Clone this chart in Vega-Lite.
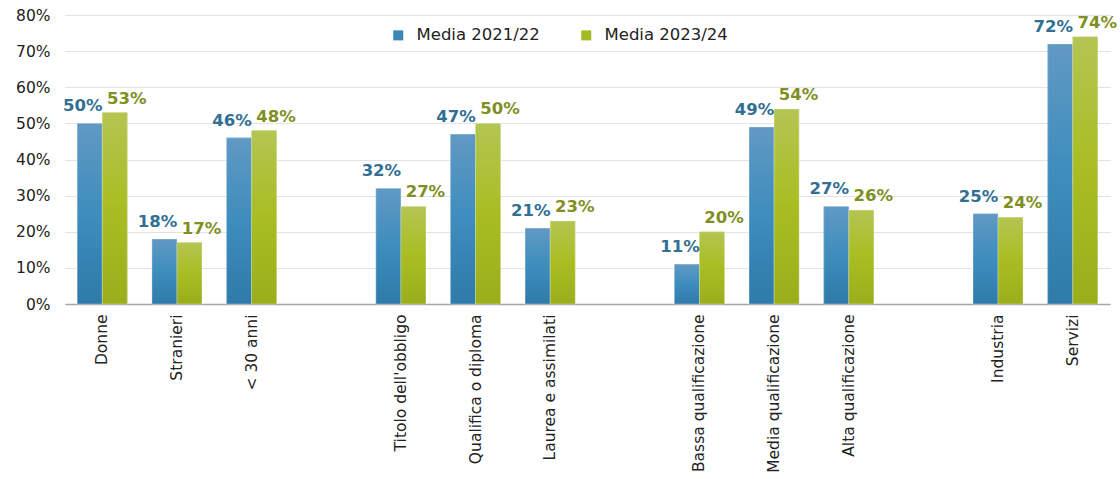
{
  "$schema": "https://vega.github.io/schema/vega-lite/v6.json",
  "width": 1045,
  "height": 289,
  "autosize": {"type": "none"},
  "padding": {"left": 65, "top": 15, "right": 10, "bottom": 175},
  "background": "white",
  "config": {
    "view": {"stroke": null},
    "font": "DejaVu Sans"
  },
  "data": {
    "values": [
      {"cat": "Donne", "serie": "Media 2021/22", "v": 0.50},
      {"cat": "Donne", "serie": "Media 2023/24", "v": 0.53},
      {"cat": "Stranieri", "serie": "Media 2021/22", "v": 0.18},
      {"cat": "Stranieri", "serie": "Media 2023/24", "v": 0.17},
      {"cat": "< 30 anni", "serie": "Media 2021/22", "v": 0.46},
      {"cat": "< 30 anni", "serie": "Media 2023/24", "v": 0.48},
      {"cat": "Titolo dell'obbligo", "serie": "Media 2021/22", "v": 0.32},
      {"cat": "Titolo dell'obbligo", "serie": "Media 2023/24", "v": 0.27},
      {"cat": "Qualifica o diploma", "serie": "Media 2021/22", "v": 0.47},
      {"cat": "Qualifica o diploma", "serie": "Media 2023/24", "v": 0.50},
      {"cat": "Laurea e assimilati", "serie": "Media 2021/22", "v": 0.21},
      {"cat": "Laurea e assimilati", "serie": "Media 2023/24", "v": 0.23},
      {"cat": "Bassa qualificazione", "serie": "Media 2021/22", "v": 0.11},
      {"cat": "Bassa qualificazione", "serie": "Media 2023/24", "v": 0.20},
      {"cat": "Media qualificazione", "serie": "Media 2021/22", "v": 0.49},
      {"cat": "Media qualificazione", "serie": "Media 2023/24", "v": 0.54},
      {"cat": "Alta qualificazione", "serie": "Media 2021/22", "v": 0.27},
      {"cat": "Alta qualificazione", "serie": "Media 2023/24", "v": 0.26},
      {"cat": "Industria", "serie": "Media 2021/22", "v": 0.25},
      {"cat": "Industria", "serie": "Media 2023/24", "v": 0.24},
      {"cat": "Servizi", "serie": "Media 2021/22", "v": 0.72},
      {"cat": "Servizi", "serie": "Media 2023/24", "v": 0.74}
    ]
  },
  "encoding": {
    "x": {
      "field": "cat",
      "type": "nominal",
      "sort": null,
      "scale": {
        "domain": ["Donne", "Stranieri", "< 30 anni", " ", "Titolo dell'obbligo", "Qualifica o diploma", "Laurea e assimilati", "  ", "Bassa qualificazione", "Media qualificazione", "Alta qualificazione", "   ", "Industria", "Servizi"],
        "paddingInner": 0.33,
        "paddingOuter": 0.165
      },
      "axis": {
        "title": null,
        "labelAngle": -90,
        "labelFontSize": 15.5,
        "labelColor": "#222222",
        "labelPadding": 10,
        "ticks": false,
        "domainColor": "#a6a6a6",
        "domainWidth": 1.5,
        "labelLimit": 300
      }
    },
    "xOffset": {"field": "serie", "type": "nominal", "scale": {"domain": ["Media 2021/22", "Media 2023/24"], "paddingInner": 0}},
    "y": {
      "field": "v",
      "type": "quantitative",
      "scale": {"domain": [0, 0.8], "nice": false},
      "axis": {
        "title": null,
        "format": ".0%",
        "values": [0, 0.1, 0.2, 0.3, 0.4, 0.5, 0.6, 0.7, 0.8],
        "labelFontSize": 15.5,
        "labelColor": "#222222",
        "labelPadding": 15,
        "ticks": false,
        "domain": false,
        "gridColor": "#e3e3e3",
        "gridWidth": 1.2
      }
    }
  },
  "layer": [
    {
      "mark": {"type": "bar"},
      "encoding": {
        "color": {
          "field": "serie",
          "type": "nominal",
          "scale": {
            "domain": ["Media 2021/22", "Media 2023/24"],
            "range": ["#3a86b8", "#a5ba22"]
          },
          "legend": {
            "title": null,
            "orient": "none",
            "direction": "horizontal",
            "legendX": 325,
            "legendY": 12,
            "symbolType": "square",
            "symbolSize": 100,
            "symbolStrokeWidth": 0,
            "labelFontSize": 16.5,
            "labelColor": "#222222",
            "columnPadding": 38,
            "labelOffset": 10
          }
        }
      }
    },
    {
      "transform": [{"filter": "datum.serie === 'Media 2021/22'"}],
      "mark": {
        "type": "bar", "stroke": "#ffffff", "strokeWidth": 0.6, "strokeOpacity": 0.5,
        "color": {"gradient": "linear", "x1": 0, "y1": 0, "x2": 0, "y2": 1, "stops": [{"offset": 0, "color": "#6199c3"}, {"offset": 0.5, "color": "#3d8dbd"}, {"offset": 1, "color": "#2f7aa9"}]}
      }
    },
    {
      "transform": [{"filter": "datum.serie === 'Media 2023/24'"}],
      "mark": {
        "type": "bar", "stroke": "#ffffff", "strokeWidth": 0.6, "strokeOpacity": 0.5,
        "color": {"gradient": "linear", "x1": 0, "y1": 0, "x2": 0, "y2": 1, "stops": [{"offset": 0, "color": "#b4c552"}, {"offset": 0.5, "color": "#a9bd22"}, {"offset": 1, "color": "#9aae1c"}]}
      }
    },
    {
      "transform": [{"filter": "datum.serie === 'Media 2021/22'"}],
      "mark": {"type": "text", "baseline": "alphabetic", "dy": -12, "dx": -7, "fontSize": 16.5, "fontWeight": "bold", "color": "#316f93"},
      "encoding": {
        "text": {"field": "v", "type": "quantitative", "format": ".0%"}
      }
    },
    {
      "transform": [{"filter": "datum.serie === 'Media 2023/24'"}],
      "mark": {"type": "text", "baseline": "alphabetic", "dy": -9, "dx": 12, "fontSize": 16.5, "fontWeight": "bold", "color": "#7f8f22"},
      "encoding": {
        "text": {"field": "v", "type": "quantitative", "format": ".0%"}
      }
    }
  ]
}
